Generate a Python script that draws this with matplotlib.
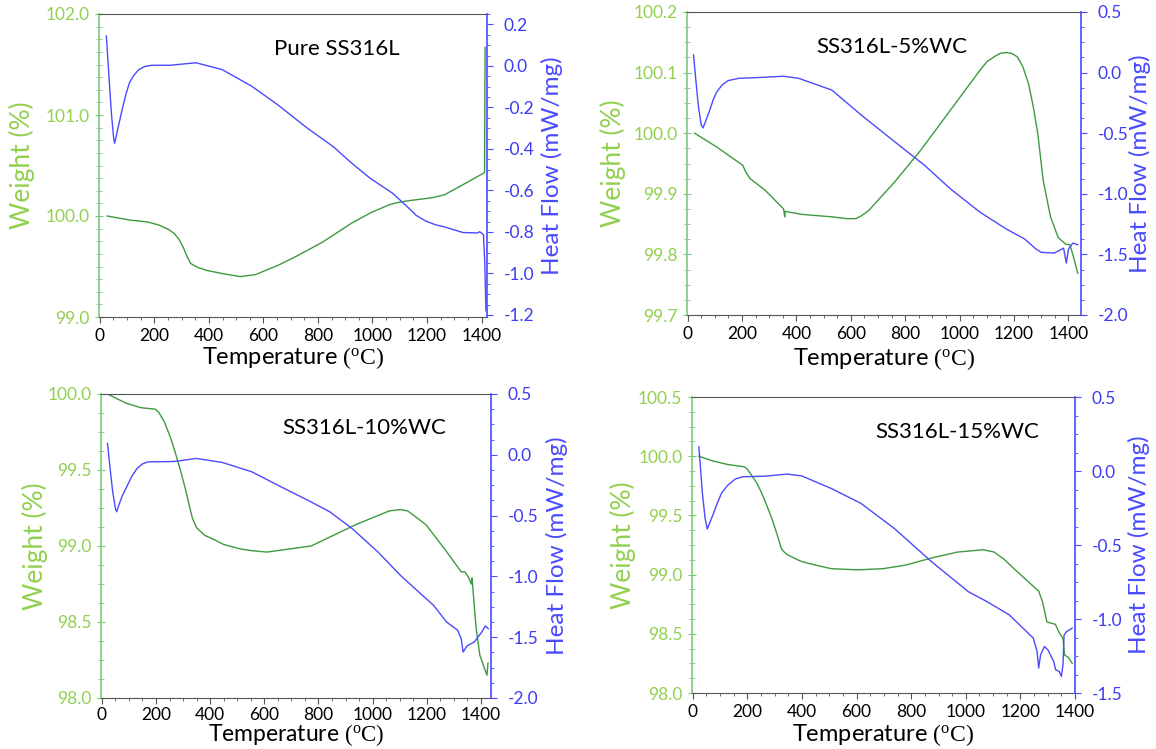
import matplotlib
matplotlib.use("Agg")
import matplotlib.pyplot as plt
from matplotlib.ticker import MultipleLocator, FormatStrFormatter

plt.rcParams['font.family'] = ['Lato', 'DejaVu Sans']
plt.rcParams['mathtext.fontset'] = 'custom'
plt.rcParams['mathtext.rm'] = 'Liberation Serif'

# ---------------- data ----------------
titles = ["Pure SS316L", "SS316L-5%WC", "SS316L-10%WC", "SS316L-15%WC"]

# Pure SS316L
t1_w = [27, 109, 177, 217, 250, 272, 290, 306, 320, 333, 360, 394, 449, 516, 571, 652,
        720, 816, 924, 992, 1060, 1087, 1128, 1217, 1264, 1332, 1411, 1413]
w1 = [100.0, 99.96, 99.94, 99.91, 99.87, 99.83, 99.77, 99.69, 99.60, 99.53, 99.49,
      99.46, 99.43, 99.40, 99.42, 99.51, 99.60, 99.74, 99.93, 100.03, 100.11, 100.13,
      100.15, 100.18, 100.21, 100.31, 100.43, 101.67]
t1_h = [24, 32, 42, 50, 54, 60, 70, 82, 95, 109, 125, 143, 165, 190, 258, 353, 449,
        557, 652, 761, 856, 924, 992, 1074, 1128, 1160, 1196, 1230, 1264, 1332, 1386,
        1393, 1407, 1412, 1416]
h1 = [0.144, -0.02, -0.22, -0.34, -0.373, -0.34, -0.28, -0.21, -0.14, -0.08, -0.045,
      -0.018, -0.003, 0.003, 0.003, 0.015, -0.018, -0.098, -0.187, -0.30, -0.389,
      -0.469, -0.542, -0.614, -0.679, -0.72, -0.748, -0.765, -0.776, -0.803, -0.805,
      -0.799, -0.813, -0.95, -1.18]

# SS316L-5%WC
t2_w = [26, 108, 203, 215, 230, 285, 353, 357, 359, 421, 530, 585, 619, 640, 667, 762,
        857, 966, 1075, 1100, 1130, 1150, 1171, 1190, 1212, 1232, 1253, 1270, 1287,
        1307, 1334, 1362, 1389, 1405, 1416, 1434]
w2 = [100.0, 99.977, 99.947, 99.935, 99.925, 99.906, 99.875, 99.862, 99.871, 99.866,
      99.862, 99.859, 99.859, 99.864, 99.873, 99.92, 99.972, 100.038, 100.104, 100.118,
      100.127, 100.132, 100.133, 100.132, 100.126, 100.11, 100.082, 100.045, 100.0,
      99.922, 99.862, 99.828, 99.817, 99.816, 99.80, 99.769]
t2_h = [22, 30, 40, 50, 57, 65, 80, 95, 108, 128, 149, 189, 258, 353, 408, 530, 639,
        762, 871, 966, 1075, 1171, 1239, 1280, 1300, 1348, 1382, 1392, 1400, 1416, 1434]
h2 = [0.146, -0.05, -0.28, -0.43, -0.456, -0.41, -0.32, -0.22, -0.157, -0.10, -0.066,
      -0.047, -0.041, -0.03, -0.047, -0.144, -0.351, -0.572, -0.765, -0.959, -1.152,
      -1.29, -1.373, -1.455, -1.483, -1.489, -1.448, -1.572, -1.456, -1.406, -1.42]

# SS316L-10%WC
t3_w = [21, 89, 144, 198, 210, 230, 250, 267, 290, 308, 325, 335, 350, 380, 417, 450,
        513, 550, 609, 650, 691, 773, 855, 937, 1033, 1060, 1102, 1130, 1160, 1197,
        1266, 1327, 1341, 1355, 1364, 1367, 1382, 1396, 1416, 1422, 1426]
w3 = [100.0, 99.94, 99.91, 99.90, 99.88, 99.82, 99.73, 99.64, 99.50, 99.38, 99.25,
      99.18, 99.12, 99.07, 99.04, 99.01, 98.98, 98.97, 98.96, 98.97, 98.98, 99.0,
      99.07, 99.14, 99.21, 99.23, 99.24, 99.23, 99.19, 99.14, 98.98, 98.83, 98.83,
      98.79, 98.75, 98.79, 98.46, 98.28, 98.18, 98.15, 98.23]
t3_h = [21, 30, 40, 50, 55, 62, 75, 89, 110, 130, 150, 171, 267, 349, 445, 554, 650,
        760, 842, 924, 1020, 1102, 1170, 1225, 1273, 1314, 1327, 1334, 1348, 1375,
        1403, 1416, 1427]
h3 = [0.093, -0.1, -0.3, -0.44, -0.469, -0.42, -0.34, -0.277, -0.18, -0.113, -0.075,
      -0.058, -0.055, -0.03, -0.063, -0.14, -0.25, -0.373, -0.469, -0.606, -0.80,
      -0.99, -1.128, -1.238, -1.375, -1.443, -1.512, -1.622, -1.572, -1.54, -1.457,
      -1.408, -1.43]

# SS316L-15%WC
t4_w = [22, 73, 128, 189, 200, 215, 235, 250, 270, 290, 310, 324, 335, 345, 370, 399,
        450, 507, 602, 697, 779, 874, 969, 1064, 1104, 1140, 1186, 1267, 1281, 1297,
        1328, 1342, 1356, 1362, 1376, 1390]
w4 = [100.0, 99.96, 99.93, 99.91, 99.89, 99.84, 99.77, 99.70, 99.59, 99.47, 99.33,
      99.22, 99.19, 99.17, 99.14, 99.11, 99.08, 99.05, 99.04, 99.05, 99.08, 99.14,
      99.19, 99.21, 99.19, 99.13, 99.03, 98.86, 98.77, 98.60, 98.58, 98.51, 98.46,
      98.32, 98.30, 98.25]
t4_h = [22, 27, 35, 45, 53, 62, 75, 87, 105, 128, 155, 182, 263, 345, 399, 507, 616,
        738, 874, 1009, 1077, 1159, 1247, 1261, 1267, 1274, 1288, 1301, 1322, 1329,
        1342, 1350, 1356, 1360, 1370, 1390]
h4 = [0.163, 0.05, -0.15, -0.32, -0.392, -0.35, -0.29, -0.23, -0.15, -0.096, -0.055,
      -0.039, -0.035, -0.021, -0.033, -0.118, -0.219, -0.388, -0.612, -0.815, -0.882,
      -0.972, -1.129, -1.219, -1.331, -1.242, -1.186, -1.209, -1.287, -1.343, -1.354,
      -1.388, -1.309, -1.107, -1.084, -1.062]

# ---------------- styling ----------------
W_PX, H_PX = 1156, 749
GREEN_LINE = "#3e9a3e"
GREEN_TXT = "#92d050"
GREEN_SPINE = "#7cc87c"
BLUE_LINE = "#4a4aff"
BLUE_TXT = "#3c3cf0"
GREY = "#555555"

panels = [
    dict(box=(99, 487, 14, 317), xlim=(-3, 1420), wlim=(99.0, 102.0), wmaj=1.0, wmin=0.125,
         hlim=(-1.21, 0.25), hmaj=0.2, hmin=0.05,
         tw=t1_w, w=w1, th=t1_h, h=h1, title=titles[0], tpos=(337, 49),
         wlab_x=22, hlab_x=552, xlab_y=358, xlab_fs=17, xpad=4),
    dict(box=(687, 1081, 12, 315), xlim=(-2, 1446), wlim=(99.7, 100.2), wmaj=0.1, wmin=0.025,
         hlim=(-2.0, 0.5), hmaj=0.5, hmin=0.125,
         tw=t2_w, w=w2, th=t2_h, h=h2, title=titles[1], tpos=(892, 47),
         wlab_x=613, hlab_x=1140, xlab_y=359, xlab_fs=17, xpad=4),
    dict(box=(101, 491, 394, 698), xlim=(-3, 1437), wlim=(98.0, 100.0), wmaj=0.5, wmin=0.125,
         hlim=(-2.0, 0.5), hmaj=0.5, hmin=0.125,
         tw=t3_w, w=w3, th=t3_h, h=h3, title=titles[2], tpos=(364, 428),
         wlab_x=35, hlab_x=557, xlab_y=735, xlab_fs=16.5, xpad=2.5),
    dict(box=(692, 1075, 397, 693), xlim=(-3, 1400), wlim=(98.0, 100.5), wmaj=0.5, wmin=0.125,
         hlim=(-1.5, 0.5), hmaj=0.5, hmin=0.125,
         tw=t4_w, w=w4, th=t4_h, h=h4, title=titles[3], tpos=(957, 432),
         wlab_x=623, hlab_x=1139, xlab_y=735, xlab_fs=17, xpad=4),
]

fig = plt.figure(figsize=(W_PX / 100, H_PX / 100), dpi=100)
fig.patch.set_facecolor("white")

for p in panels:
    l, r, t, b = p["box"]
    ax = fig.add_axes([l / W_PX, 1 - b / H_PX, (r - l) / W_PX, (b - t) / H_PX])
    ax2 = ax.twinx()

    ax.plot(p["tw"], p["w"], color=GREEN_LINE, lw=1.0)
    ax2.plot(p["th"], p["h"], color=BLUE_LINE, lw=1.0)

    ax.set_xlim(*p["xlim"])
    ax.set_ylim(*p["wlim"])
    ax2.set_ylim(*p["hlim"])

    ax.xaxis.set_major_locator(MultipleLocator(200))
    ax.xaxis.set_minor_locator(MultipleLocator(50))
    ax.yaxis.set_major_locator(MultipleLocator(p["wmaj"]))
    ax.yaxis.set_minor_locator(MultipleLocator(p["wmin"]))
    ax.yaxis.set_major_formatter(FormatStrFormatter("%.1f"))
    ax2.yaxis.set_major_locator(MultipleLocator(p["hmaj"]))
    ax2.yaxis.set_minor_locator(MultipleLocator(p["hmin"]))
    ax2.yaxis.set_major_formatter(FormatStrFormatter("%.1f"))

    for s in ("top", "bottom"):
        ax.spines[s].set_color(GREY)
        ax2.spines[s].set_visible(False)
    ax.spines["left"].set_color(GREEN_SPINE)
    ax.spines["left"].set_linewidth(1.2)
    ax.spines["right"].set_visible(False)
    ax2.spines["left"].set_visible(False)
    ax2.spines["right"].set_color(BLUE_LINE)
    ax2.spines["right"].set_linewidth(1.2)

    ax.tick_params(axis="x", which="major", direction="out", length=4, color=GREY,
                   labelsize=12.5, labelcolor="black", pad=p["xpad"])
    ax.tick_params(axis="x", which="minor", direction="out", length=2.5, color=GREY)
    ax.tick_params(axis="y", which="major", direction="inout", length=6, color=GREEN_SPINE,
                   labelsize=12.5, labelcolor=GREEN_TXT, pad=4)
    ax.tick_params(axis="y", which="minor", direction="inout", length=4, color=GREEN_SPINE)
    ax2.tick_params(axis="y", which="major", direction="out", length=4, color=BLUE_LINE,
                    labelsize=12.5, labelcolor=BLUE_TXT, pad=8)
    ax2.tick_params(axis="y", which="minor", direction="out", length=2.5, color=BLUE_LINE)

    ax.set_xlabel(r"Temperature $\mathrm{(^{o}C)}$", fontsize=p["xlab_fs"], color="black")
    ax.set_ylabel("Weight (%)", fontsize=19, color=GREEN_TXT)
    ax2.set_ylabel("Heat Flow (mW/mg)", fontsize=17.5, color=BLUE_LINE)

    # place axis labels by pixel position
    wpx, hpx = r - l, b - t
    ax.xaxis.set_label_coords(0.5, (b - p["xlab_y"]) / hpx)
    ax.yaxis.set_label_coords((p["wlab_x"] - l) / wpx, 0.5)
    ax2.yaxis.set_label_coords((p["hlab_x"] - l) / wpx, 0.5)
    ax.xaxis.label.set_va("center")
    ax.yaxis.label.set_va("center")
    ax2.yaxis.label.set_va("center")

    tx, ty = p["tpos"]
    fig.text(tx / W_PX, 1 - ty / H_PX, p["title"], fontsize=16, color="black",
             ha="center", va="center")

fig.savefig("out.png", dpi=100, facecolor="white")
